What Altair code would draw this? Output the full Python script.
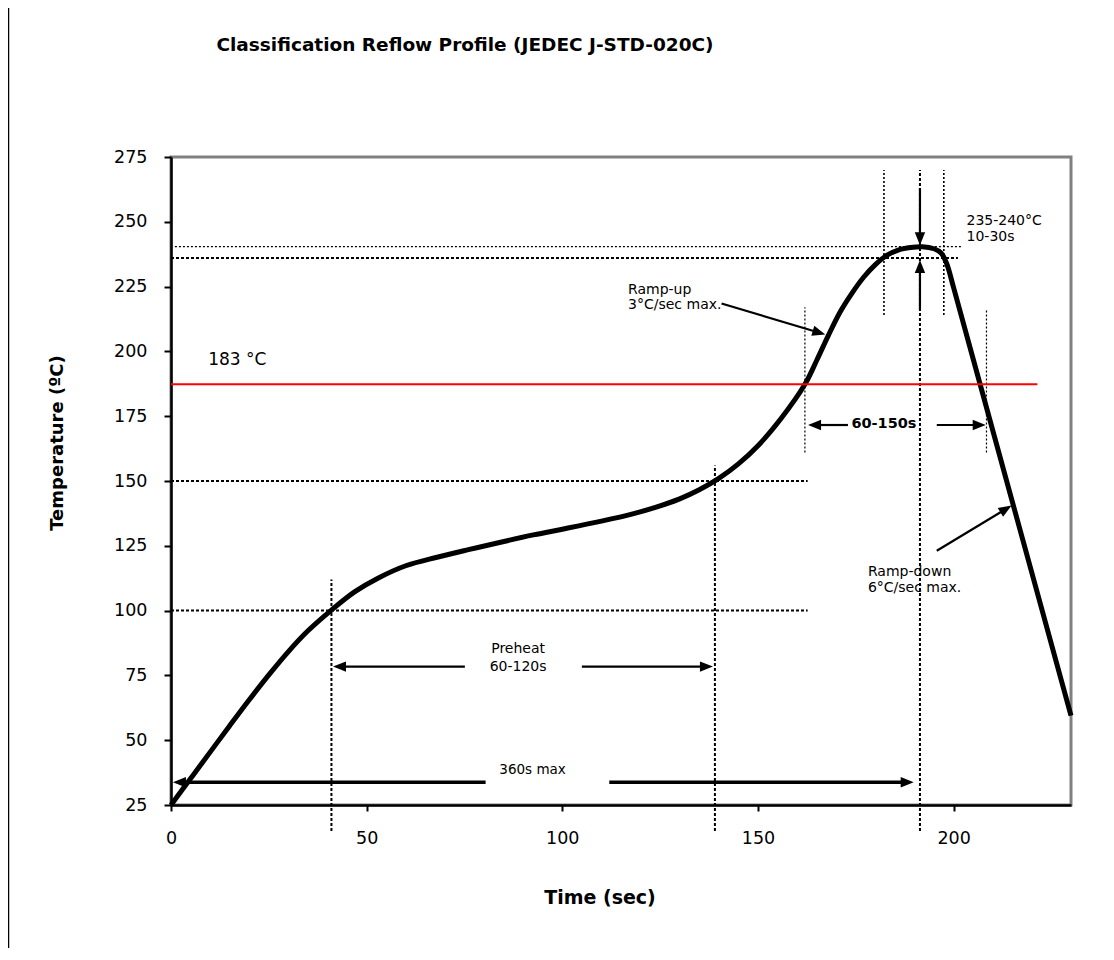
import math
import altair as alt
import pandas as pd

FONT = "DejaVu Sans"

# ---------------- data ----------------
# reflow profile curve: time (s) and temperature (°C)
curve_time = [0, 5, 10, 15, 20, 25, 30, 35, 41, 47, 53, 60, 68, 76, 92.6, 100, 110, 118,
              124, 130, 135, 140, 145, 150, 156, 162, 165, 168, 171, 174, 177, 180, 183,
              186, 189, 192, 195, 196.8, 198.2, 200, 206.7, 230]
curve_temp = [25, 35.2, 45.4, 55.6, 65.6, 75.2, 84.2, 92.2, 100.2, 107.3, 112.6, 117.3,
              120.6, 123.5, 129.2, 131.4, 134.5, 137.3, 139.9, 143.1, 146.6, 151.0, 156.6,
              163.6, 174.3, 187.3, 196.5, 206.2, 215.2, 222.4, 228.6, 233.5, 237.1, 239.2,
              240.1, 240.4, 239.6, 238, 234, 224.6, 187.7, 59.5]

# red liquidus line
liquidus_temp = [187.3]
liquidus_start = [0]
liquidus_end = [221.4]

# dotted guide lines
h_thick_temp = [236, 150, 100]
h_thick_start = [0, 0, 0]
h_thick_end = [201.1, 162.7, 162.7]
h_thin_temp = [240.4]
h_thin_start = [1]
h_thin_end = [202]
v_thick_time = [41, 139, 191.4]
v_thick_low = [15, 15, 15]
v_thick_high = [112, 156, 270]
v_mid_time = [182.2, 197.5]
v_mid_low = [214, 214]
v_mid_high = [270, 270]
v_thin_time = [162, 208.4]
v_thin_low = [161, 161]
v_thin_high = [217, 216]

# arrows (tail -> tip)
span_tail_t = [80.4, 112]
span_tail_T = [33.8, 33.8]
span_tip_t = [0.5, 189.8]
span_tip_T = [33.8, 33.8]
arrow_tail_t = [75.1, 105, 173, 195.7, 140.7, 195.7, 191.4, 191.4]
arrow_tail_T = [78.4, 78.4, 171.6, 171.6, 218.5, 123.1, 263, 216]
arrow_tip_t = [41.4, 138.5, 162.8, 208.2, 167.2, 214.8, 191.4, 191.4]
arrow_tip_T = [78.4, 78.4, 171.6, 171.6, 206.5, 140.5, 241, 235.3]

# annotation texts
left_labels = ["Ramp-up", "3°C/sec max.", "Ramp-down", "6°C/sec max.", "235-240°C", "10-30s"]
left_t = [116.8, 116.8, 178.1, 178.1, 203.3, 203.3]
left_T = [223.7, 218.0, 115.0, 108.7, 250.3, 244.1]
center_labels = ["Preheat", "60-120s"]
center_t = [88.7, 88.7]
center_T = [85.0, 78.3]
span_labels = ["360s max"]
span_t = [92.4]
span_T = [38.5]
bold_labels = ["60-150s"]
bold_t = [182.2]
bold_T = [172.0]
big_labels = ["183 °C"]
big_t = [9.5]
big_T = [196.7]

x_ticks = [0, 50, 100, 150, 200]
y_ticks = [25, 50, 75, 100, 125, 150, 175, 200, 225, 250, 275]

title_text = "Classification Reflow Profile (JEDEC J-STD-020C)"
x_title = "Time (sec)"
y_title = "Temperature (ºC)"

# ---------------- chart ----------------
W, H = 900, 648
X_DOM = [0, 230]
Y_DOM = [25, 275]
KX = W / (X_DOM[1] - X_DOM[0])
KY = H / (Y_DOM[1] - Y_DOM[0])

xs = alt.Scale(domain=X_DOM, nice=False, zero=False)
ys = alt.Scale(domain=Y_DOM, nice=False, zero=False)
x_axis = alt.Axis(values=x_ticks, labelPadding=18, tickSize=6, title=None, labelFlush=False)
y_axis = alt.Axis(values=y_ticks, labelPadding=17, tickSize=7, title=None, labelFlush=False)


def X(f="t"):
    return alt.X(f"{f}:Q", scale=xs, axis=x_axis)


def Y(f="T"):
    return alt.Y(f"{f}:Q", scale=ys, axis=y_axis)


curve_df = pd.DataFrame({"t": curve_time, "T": curve_temp})
curve = alt.Chart(curve_df).mark_line(color="black", strokeWidth=5,
                                      interpolate="catmull-rom").encode(x=X(), y=Y())


def hlines(temp, start, end, width, dash):
    df = pd.DataFrame({"T": temp, "t": start, "t2": end})
    return alt.Chart(df).mark_rule(color="black", strokeWidth=width, strokeDash=dash).encode(
        x=X(), x2="t2:Q", y=Y())


def vlines(time, low, high, width, dash):
    df = pd.DataFrame({"t": time, "T": low, "T2": high})
    return alt.Chart(df).mark_rule(color="black", strokeWidth=width, strokeDash=dash).encode(
        x=X(), y=Y(), y2="T2:Q")


guides = [
    hlines(h_thick_temp, h_thick_start, h_thick_end, 2, [3, 2]),
    hlines(h_thin_temp, h_thin_start, h_thin_end, 1.2, [2, 2]),
    vlines(v_thick_time, v_thick_low, v_thick_high, 2, [3, 2]),
    vlines(v_mid_time, v_mid_low, v_mid_high, 1.6, [2, 2]),
    vlines(v_thin_time, v_thin_low, v_thin_high, 1.2, [2, 2]),
]

liq_df = pd.DataFrame({"T": liquidus_temp, "t": liquidus_start, "t2": liquidus_end})
liquidus = alt.Chart(liq_df).mark_rule(color="#ff0000", strokeWidth=2).encode(
    x=X(), x2="t2:Q", y=Y())

HEAD_PATH = "M0,0L-0.4,1L0.4,1Z"


def arrows(tt, tT, pt, pT, width, head):
    rows = []
    for a, b, c, d in zip(tt, tT, pt, pT):
        dx = (c - a) * KX
        dy = -(d - b) * KY
        L = math.hypot(dx, dy)
        ux, uy = dx / L, dy / L
        back = head * 0.8
        rows.append({"t": a, "T": b, "t2": c - ux * back / KX, "T2": d + uy * back / KY,
                     "tip_t": c, "tip_T": d,
                     "ang": math.degrees(math.atan2(dx, -dy)) % 360})
    df = pd.DataFrame(rows)
    shaft = alt.Chart(df).mark_rule(color="black", strokeWidth=width).encode(
        x=X(), y=Y(), x2="t2:Q", y2="T2:Q")
    tip = alt.Chart(df).mark_point(shape=HEAD_PATH, filled=True, size=(2 * head) ** 2,
                                   color="black", opacity=1, strokeWidth=0).encode(
        x=X("tip_t"), y=Y("tip_T"), angle=alt.Angle("ang:Q", scale=None))
    return [shaft, tip]


arrow_layers = arrows(span_tail_t, span_tail_T, span_tip_t, span_tip_T, 3.5, 13) + \
    arrows(arrow_tail_t, arrow_tail_T, arrow_tip_t, arrow_tip_T, 2.2, 13)


def texts(labels, t, T, **kw):
    df = pd.DataFrame({"label": labels, "t": t, "T": T})
    return alt.Chart(df).mark_text(font=FONT, color="black", baseline="middle", **kw).encode(
        x=X(), y=Y(), text="label:N")


text_layers = [
    texts(left_labels, left_t, left_T, align="left", fontSize=14),
    texts(center_labels, center_t, center_T, align="center", fontSize=14),
    texts(span_labels, span_t, span_T, align="center", fontSize=13.5),
    texts(bold_labels, bold_t, bold_T, align="center", fontSize=14.5, fontWeight="bold"),
    texts(big_labels, big_t, big_T, align="left", fontSize=17),
]


def fixed_text(label, x, y, **kw):
    df = pd.DataFrame({"label": [label]})
    return alt.Chart(df).mark_text(font=FONT, color="black", baseline="middle",
                                   align="center", **kw).encode(
        x=alt.value(x), y=alt.value(y), text="label:N")


frame_texts = [
    fixed_text(title_text, 294, -112, fontSize=18.5, fontWeight="bold"),
    fixed_text(x_title, 429, 741, fontSize=19, fontWeight="bold"),
    fixed_text(y_title, -113.5, 286, fontSize=18, fontWeight="bold", angle=270),
]

edge = alt.Chart(pd.DataFrame({"k": [0]})).mark_rule(color="black", strokeWidth=1.5).encode(
    x=alt.value(-162.5), y=alt.value(-149), y2=alt.value(791))

chart = alt.layer(
    curve, *guides, liquidus, *arrow_layers, *text_layers, *frame_texts, edge
).properties(
    width=W, height=H,
    autosize=alt.AutoSizeParams(type="none"),
    padding={"left": 163, "top": 149, "right": 35, "bottom": 143},
).configure_view(
    stroke="#808080", strokeWidth=3
).configure_axis(
    domainColor="black", domainWidth=2.5, tickColor="black", tickWidth=2,
    labelFont=FONT, labelFontSize=17.5, labelColor="black", grid=False,
)

chart.save("out.html", embed_options={"renderer": "svg", "actions": False})
